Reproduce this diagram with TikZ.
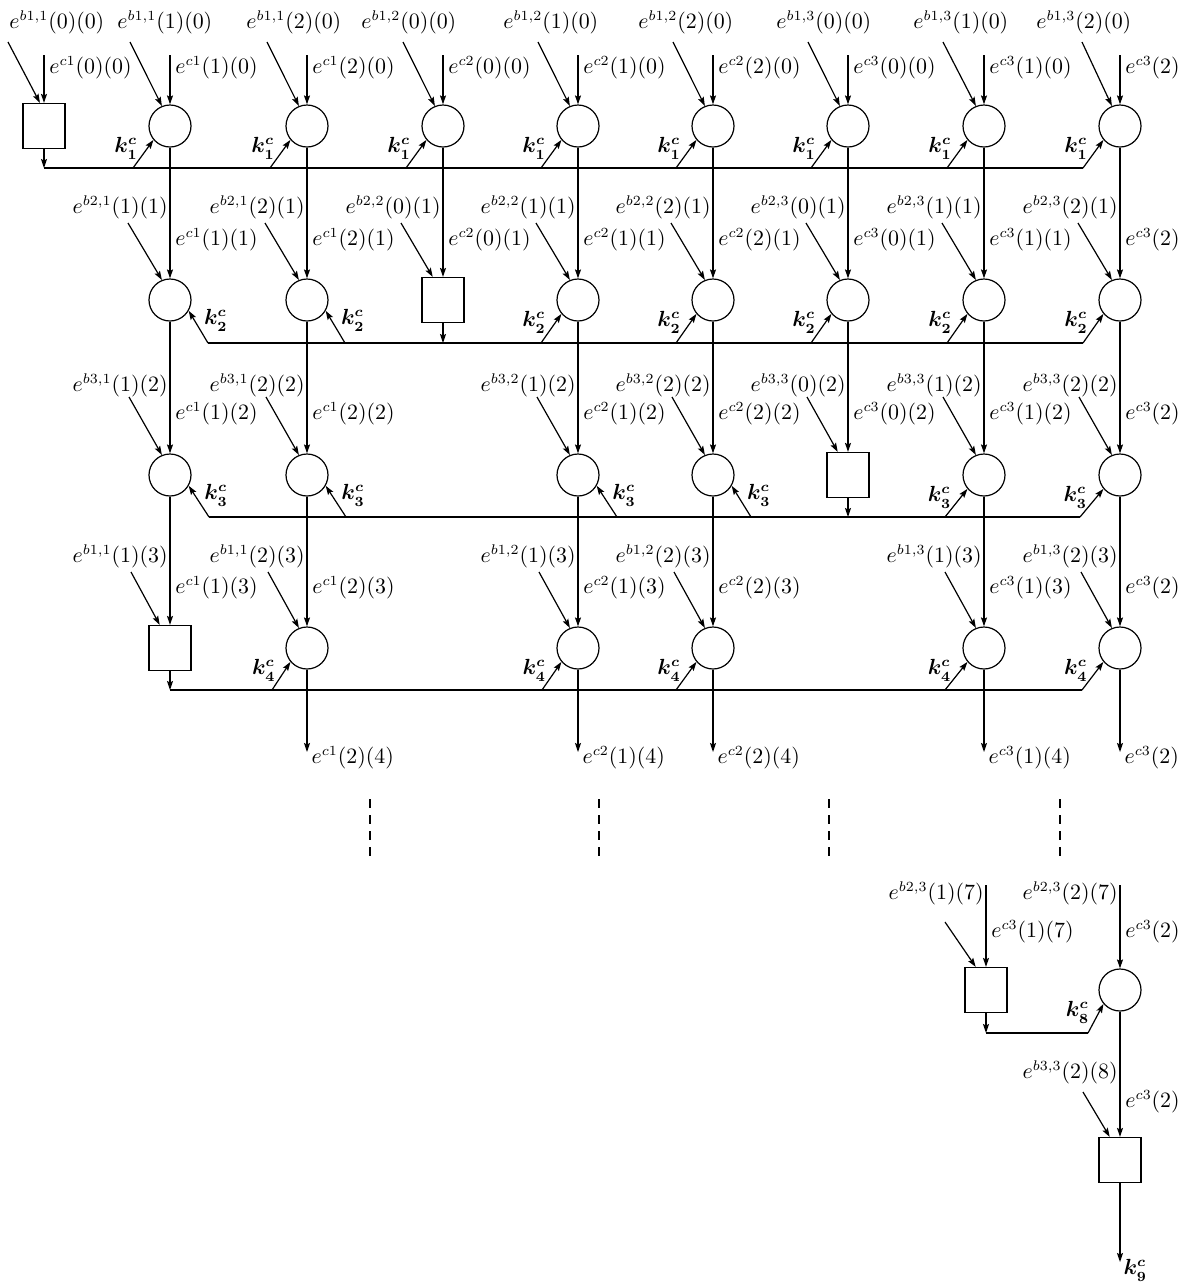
\documentclass[tikz,border=0pt]{standalone}
\usepackage{amsmath}
\usetikzlibrary{arrows.meta,positioning}

\begin{document}
\begin{tikzpicture}[
  x=0.5pt, y=-0.5pt,
  pe/.style={draw, circle, minimum size=21pt, inner sep=0pt, line width=0.6pt},
  cell/.style={draw, minimum width=21pt, minimum height=22.5pt, inner sep=0pt, line width=0.6pt},
  lab/.style={inner sep=0.5pt, font=\fontsize{10.5}{12}\selectfont},
  klab/.style={inner sep=0.5pt, font=\boldmath\fontsize{10.5}{12}\selectfont},
  sig/.style={-{Stealth[length=4.5pt, width=3pt, inset=0.8pt]}, line width=0.6pt},
  bus/.style={line width=0.8pt}
]
  \useasboundingbox (0,0) rectangle (1188,1282);

  % Row 1
  \node[cell] (n10) at (44,126) {};
  \node[pe] (n11) at (170,126) {};
  \node[pe] (n12) at (307,126) {};
  \node[pe] (n13) at (443,126) {};
  \node[pe] (n14) at (578,126) {};
  \node[pe] (n15) at (713,126) {};
  \node[pe] (n16) at (848,126) {};
  \node[pe] (n17) at (984,126) {};
  \node[pe] (n18) at (1120,126) {};

  \node[lab, anchor=west] (eb10) at (8,22) {$e^{b1,1}(0)(0)$};
  \node[lab, anchor=west] (eb11) at (116,22) {$e^{b1,1}(1)(0)$};
  \node[lab, anchor=west] (eb12) at (245,22) {$e^{b1,1}(2)(0)$};
  \node[lab, anchor=west] (eb13) at (360,22) {$e^{b1,2}(0)(0)$};
  \node[lab, anchor=west] (eb14) at (502,22) {$e^{b1,2}(1)(0)$};
  \node[lab, anchor=west] (eb15) at (637,22) {$e^{b1,2}(2)(0)$};
  \node[lab, anchor=west] (eb16) at (775,22) {$e^{b1,3}(0)(0)$};
  \node[lab, anchor=west] (eb17) at (912,22) {$e^{b1,3}(1)(0)$};
  \node[lab, anchor=west] (eb18) at (1035,22) {$e^{b1,3}(2)(0)$};

  \node[lab, anchor=west] (ec10) at (48,68) {$e^{c1}(0)(0)$};
  \node[lab, anchor=west] (ec11) at (174,68) {$e^{c1}(1)(0)$};
  \node[lab, anchor=west] (ec12) at (311,68) {$e^{c1}(2)(0)$};
  \node[lab, anchor=west] (ec13) at (447,68) {$e^{c2}(0)(0)$};
  \node[lab, anchor=west] (ec14) at (582,68) {$e^{c2}(1)(0)$};
  \node[lab, anchor=west] (ec15) at (717,68) {$e^{c2}(2)(0)$};
  \node[lab, anchor=west] (ec16) at (852,68) {$e^{c3}(0)(0)$};
  \node[lab, anchor=west] (ec17) at (988,68) {$e^{c3}(1)(0)$};
  \node[lab, anchor=west] (ec18) at (1124,68) {$e^{c3}(2)$};

  \coordinate (d10) at (8,42);    \coordinate (v10) at (44,55);
  \coordinate (d11) at (130,42);  \coordinate (v11) at (170,55);
  \coordinate (d12) at (267,42);  \coordinate (v12) at (307,55);
  \coordinate (d13) at (403,42);  \coordinate (v13) at (443,55);
  \coordinate (d14) at (538,42);  \coordinate (v14) at (578,55);
  \coordinate (d15) at (673,42);  \coordinate (v15) at (713,55);
  \coordinate (d16) at (808,42);  \coordinate (v16) at (848,55);
  \coordinate (d17) at (943,42);  \coordinate (v17) at (984,55);
  \coordinate (d18) at (1082,42); \coordinate (v18) at (1120,55);

  \draw[sig] (d10) -- (n10.100);  \draw[sig] (v10) -- (n10);
  \draw[sig] (d11) -- (n11.112);  \draw[sig] (v11) -- (n11);
  \draw[sig] (d12) -- (n12.112);  \draw[sig] (v12) -- (n12);
  \draw[sig] (d13) -- (n13.112);  \draw[sig] (v13) -- (n13);
  \draw[sig] (d14) -- (n14.112);  \draw[sig] (v14) -- (n14);
  \draw[sig] (d15) -- (n15.112);  \draw[sig] (v15) -- (n15);
  \draw[sig] (d16) -- (n16.112);  \draw[sig] (v16) -- (n16);
  \draw[sig] (d17) -- (n17.112);  \draw[sig] (v17) -- (n17);
  \draw[sig] (d18) -- (n18.112);  \draw[sig] (v18) -- (n18);

  % Bus 1
  \coordinate (j10) at (44,168);
  \coordinate (k11) at (133,168);
  \coordinate (k12) at (270,168);
  \coordinate (k13) at (406,168);
  \coordinate (k14) at (541,168);
  \coordinate (k15) at (676,168);
  \coordinate (k16) at (811,168);
  \coordinate (k17) at (947,168);
  \coordinate (k18) at (1083,168);
  \draw[sig] (n10) -- (j10);
  \draw[bus] (j10) -- (k18);
  \draw[sig] (k11) -- node[klab, left=4pt, pos=0.7] {$k_1^c$} (n11.220);
  \draw[sig] (k12) -- node[klab, left=4pt, pos=0.7] {$k_1^c$} (n12.220);
  \draw[sig] (k13) -- node[klab, left=4pt, pos=0.7] {$k_1^c$} (n13.220);
  \draw[sig] (k14) -- node[klab, left=4pt, pos=0.7] {$k_1^c$} (n14.220);
  \draw[sig] (k15) -- node[klab, left=4pt, pos=0.7] {$k_1^c$} (n15.220);
  \draw[sig] (k16) -- node[klab, left=4pt, pos=0.7] {$k_1^c$} (n16.220);
  \draw[sig] (k17) -- node[klab, left=4pt, pos=0.7] {$k_1^c$} (n17.220);
  \draw[sig] (k18) -- node[klab, left=4pt, pos=0.7] {$k_1^c$} (n18.220);

  % Row 2
  \node[pe] (n21) at (170,300) {};
  \node[pe] (n22) at (307,300) {};
  \node[cell] (n23) at (443,300) {};
  \node[pe] (n24) at (578,300) {};
  \node[pe] (n25) at (713,300) {};
  \node[pe] (n26) at (848,300) {};
  \node[pe] (n27) at (984,300) {};
  \node[pe] (n28) at (1120,300) {};

  \node[lab, anchor=east] (eb21) at (169,207) {$e^{b2,1}(1)(1)$};
  \node[lab, anchor=east] (eb22) at (306,207) {$e^{b2,1}(2)(1)$};
  \node[lab, anchor=east] (eb23) at (442,207) {$e^{b2,2}(0)(1)$};
  \node[lab, anchor=east] (eb24) at (577,207) {$e^{b2,2}(1)(1)$};
  \node[lab, anchor=east] (eb25) at (712,207) {$e^{b2,2}(2)(1)$};
  \node[lab, anchor=east] (eb26) at (847,207) {$e^{b2,3}(0)(1)$};
  \node[lab, anchor=east] (eb27) at (983,207) {$e^{b2,3}(1)(1)$};
  \node[lab, anchor=east] (eb28) at (1119,207) {$e^{b2,3}(2)(1)$};

  \node[lab, anchor=west] (ec21) at (174,240) {$e^{c1}(1)(1)$};
  \node[lab, anchor=west] (ec22) at (311,240) {$e^{c1}(2)(1)$};
  \node[lab, anchor=west] (ec23) at (447,240) {$e^{c2}(0)(1)$};
  \node[lab, anchor=west] (ec24) at (582,240) {$e^{c2}(1)(1)$};
  \node[lab, anchor=west] (ec25) at (717,240) {$e^{c2}(2)(1)$};
  \node[lab, anchor=west] (ec26) at (852,240) {$e^{c3}(0)(1)$};
  \node[lab, anchor=west] (ec27) at (988,240) {$e^{c3}(1)(1)$};
  \node[lab, anchor=west] (ec28) at (1124,240) {$e^{c3}(2)$};

  \coordinate (d21) at (128,223);
  \coordinate (d22) at (265,223);
  \coordinate (d23) at (401,223);
  \coordinate (d24) at (536,223);
  \coordinate (d25) at (671,223);
  \coordinate (d26) at (806,223);
  \coordinate (d27) at (942,223);
  \coordinate (d28) at (1078,223);

  \draw[sig] (d21) -- (n21.112);  \draw[sig] (n11) -- (n21);
  \draw[sig] (d22) -- (n22.112);  \draw[sig] (n12) -- (n22);
  \draw[sig] (d23) -- (n23.114);  \draw[sig] (n13) -- (n23);
  \draw[sig] (d24) -- (n24.112);  \draw[sig] (n14) -- (n24);
  \draw[sig] (d25) -- (n25.112);  \draw[sig] (n15) -- (n25);
  \draw[sig] (d26) -- (n26.112);  \draw[sig] (n16) -- (n26);
  \draw[sig] (d27) -- (n27.112);  \draw[sig] (n17) -- (n27);
  \draw[sig] (d28) -- (n28.112);  \draw[sig] (n18) -- (n28);

  % Bus 2
  \coordinate (k21) at (208,343);
  \coordinate (k22) at (345,343);
  \coordinate (j23) at (443,343);
  \coordinate (k24) at (541,343);
  \coordinate (k25) at (676,343);
  \coordinate (k26) at (811,343);
  \coordinate (k27) at (947,343);
  \coordinate (k28) at (1083,343);
  \draw[bus] (k21) -- (k28);
  \draw[sig] (n23) -- (j23);
  \draw[sig] (k21) -- node[klab, right=4pt, pos=0.7] {$k_2^c$} (n21.330);
  \draw[sig] (k22) -- node[klab, right=4pt, pos=0.7] {$k_2^c$} (n22.330);
  \draw[sig] (k24) -- node[klab, left=4pt, pos=0.7] {$k_2^c$} (n24.220);
  \draw[sig] (k25) -- node[klab, left=4pt, pos=0.7] {$k_2^c$} (n25.220);
  \draw[sig] (k26) -- node[klab, left=4pt, pos=0.7] {$k_2^c$} (n26.220);
  \draw[sig] (k27) -- node[klab, left=4pt, pos=0.7] {$k_2^c$} (n27.220);
  \draw[sig] (k28) -- node[klab, left=4pt, pos=0.7] {$k_2^c$} (n28.220);

  % Row 3
  \node[pe] (n31) at (170,475) {};
  \node[pe] (n32) at (307,475) {};
  \node[pe] (n34) at (578,475) {};
  \node[pe] (n35) at (713,475) {};
  \node[cell] (n36) at (848,475) {};
  \node[pe] (n37) at (984,475) {};
  \node[pe] (n38) at (1120,475) {};

  \node[lab, anchor=east] (eb31) at (169,385) {$e^{b3,1}(1)(2)$};
  \node[lab, anchor=east] (eb32) at (306,385) {$e^{b3,1}(2)(2)$};
  \node[lab, anchor=east] (eb34) at (577,385) {$e^{b3,2}(1)(2)$};
  \node[lab, anchor=east] (eb35) at (712,385) {$e^{b3,2}(2)(2)$};
  \node[lab, anchor=east] (eb36) at (847,385) {$e^{b3,3}(0)(2)$};
  \node[lab, anchor=east] (eb37) at (983,385) {$e^{b3,3}(1)(2)$};
  \node[lab, anchor=east] (eb38) at (1119,385) {$e^{b3,3}(2)(2)$};

  \node[lab, anchor=west] (ec31) at (174,414) {$e^{c1}(1)(2)$};
  \node[lab, anchor=west] (ec32) at (311,414) {$e^{c1}(2)(2)$};
  \node[lab, anchor=west] (ec34) at (582,414) {$e^{c2}(1)(2)$};
  \node[lab, anchor=west] (ec35) at (717,414) {$e^{c2}(2)(2)$};
  \node[lab, anchor=west] (ec36) at (852,414) {$e^{c3}(0)(2)$};
  \node[lab, anchor=west] (ec37) at (988,414) {$e^{c3}(1)(2)$};
  \node[lab, anchor=west] (ec38) at (1124,414) {$e^{c3}(2)$};

  \coordinate (d31) at (129,397);
  \coordinate (d32) at (266,397);
  \coordinate (d34) at (537,397);
  \coordinate (d35) at (672,397);
  \coordinate (d36) at (807,397);
  \coordinate (d37) at (943,397);
  \coordinate (d38) at (1079,397);

  \draw[sig] (d31) -- (n31.112);  \draw[sig] (n21) -- (n31);
  \draw[sig] (d32) -- (n32.112);  \draw[sig] (n22) -- (n32);
  \draw[sig] (d34) -- (n34.112);  \draw[sig] (n24) -- (n34);
  \draw[sig] (d35) -- (n35.112);  \draw[sig] (n25) -- (n35);
  \draw[sig] (d36) -- (n36.114);  \draw[sig] (n26) -- (n36);
  \draw[sig] (d37) -- (n37.112);  \draw[sig] (n27) -- (n37);
  \draw[sig] (d38) -- (n38.112);  \draw[sig] (n28) -- (n38);

  % Bus 3
  \coordinate (k31) at (209,517);
  \coordinate (k32) at (346,517);
  \coordinate (k34) at (617,517);
  \coordinate (k35) at (751,517);
  \coordinate (j36) at (848,517);
  \coordinate (k37) at (945,517);
  \coordinate (k38) at (1080,517);
  \draw[bus] (k31) -- (k38);
  \draw[sig] (n36) -- (j36);
  \draw[sig] (k31) -- node[klab, right=4pt, pos=0.7] {$k_3^c$} (n31.330);
  \draw[sig] (k32) -- node[klab, right=4pt, pos=0.7] {$k_3^c$} (n32.330);
  \draw[sig] (k34) -- node[klab, right=4pt, pos=0.7] {$k_3^c$} (n34.330);
  \draw[sig] (k35) -- node[klab, right=4pt, pos=0.7] {$k_3^c$} (n35.330);
  \draw[sig] (k37) -- node[klab, left=4pt, pos=0.7] {$k_3^c$} (n37.220);
  \draw[sig] (k38) -- node[klab, left=4pt, pos=0.7] {$k_3^c$} (n38.220);

  % Row 4
  \node[cell] (n41) at (170,648) {};
  \node[pe] (n42) at (307,648) {};
  \node[pe] (n44) at (578,648) {};
  \node[pe] (n45) at (713,648) {};
  \node[pe] (n47) at (984,648) {};
  \node[pe] (n48) at (1120,648) {};

  \node[lab, anchor=east] (eb41) at (169,556) {$e^{b1,1}(1)(3)$};
  \node[lab, anchor=east] (eb42) at (306,556) {$e^{b1,1}(2)(3)$};
  \node[lab, anchor=east] (eb44) at (577,556) {$e^{b1,2}(1)(3)$};
  \node[lab, anchor=east] (eb45) at (712,556) {$e^{b1,2}(2)(3)$};
  \node[lab, anchor=east] (eb47) at (983,556) {$e^{b1,3}(1)(3)$};
  \node[lab, anchor=east] (eb48) at (1119,556) {$e^{b1,3}(2)(3)$};

  \node[lab, anchor=west] (ec41) at (174,588) {$e^{c1}(1)(3)$};
  \node[lab, anchor=west] (ec42) at (311,588) {$e^{c1}(2)(3)$};
  \node[lab, anchor=west] (ec44) at (582,588) {$e^{c2}(1)(3)$};
  \node[lab, anchor=west] (ec45) at (717,588) {$e^{c2}(2)(3)$};
  \node[lab, anchor=west] (ec47) at (988,588) {$e^{c3}(1)(3)$};
  \node[lab, anchor=west] (ec48) at (1124,588) {$e^{c3}(2)$};

  \coordinate (d41) at (131,572);
  \coordinate (d42) at (268,572);
  \coordinate (d44) at (539,572);
  \coordinate (d45) at (674,572);
  \coordinate (d47) at (945,572);
  \coordinate (d48) at (1081,572);

  \draw[sig] (d41) -- (n41.114);  \draw[sig] (n31) -- (n41);
  \draw[sig] (d42) -- (n42.112);  \draw[sig] (n32) -- (n42);
  \draw[sig] (d44) -- (n44.112);  \draw[sig] (n34) -- (n44);
  \draw[sig] (d45) -- (n45.112);  \draw[sig] (n35) -- (n45);
  \draw[sig] (d47) -- (n47.112);  \draw[sig] (n37) -- (n47);
  \draw[sig] (d48) -- (n48.112);  \draw[sig] (n38) -- (n48);

  % Bus 4
  \coordinate (j41) at (170,690);
  \coordinate (k42) at (272,690);
  \coordinate (k44) at (542,690);
  \coordinate (k45) at (676,690);
  \coordinate (k47) at (945,690);
  \coordinate (k48) at (1082,690);
  \draw[sig] (n41) -- (j41);
  \draw[bus] (j41) -- (k48);
  \draw[sig] (k42) -- node[klab, left=4pt, pos=0.7] {$k_4^c$} (n42.220);
  \draw[sig] (k44) -- node[klab, left=4pt, pos=0.7] {$k_4^c$} (n44.220);
  \draw[sig] (k45) -- node[klab, left=4pt, pos=0.7] {$k_4^c$} (n45.220);
  \draw[sig] (k47) -- node[klab, left=4pt, pos=0.7] {$k_4^c$} (n47.220);
  \draw[sig] (k48) -- node[klab, left=4pt, pos=0.7] {$k_4^c$} (n48.220);

  % Outputs
  \coordinate (o42) at (307,752);
  \coordinate (o44) at (578,752);
  \coordinate (o45) at (713,752);
  \coordinate (o47) at (984,752);
  \coordinate (o48) at (1120,752);
  \draw[sig] (n42) -- (o42) node[lab, anchor=west, xshift=1.5pt, yshift=-3pt] {$e^{c1}(2)(4)$};
  \draw[sig] (n44) -- (o44) node[lab, anchor=west, xshift=1.5pt, yshift=-3pt] {$e^{c2}(1)(4)$};
  \draw[sig] (n45) -- (o45) node[lab, anchor=west, xshift=1.5pt, yshift=-3pt] {$e^{c2}(2)(4)$};
  \draw[sig] (n47) -- (o47) node[lab, anchor=west, xshift=1.5pt, yshift=-3pt] {$e^{c3}(1)(4)$};
  \draw[sig] (n48) -- (o48) node[lab, anchor=west, xshift=1.5pt, yshift=-3pt] {$e^{c3}(2)$};

  % Gap
  \draw[line width=0.6pt, dash pattern=on 4.5pt off 3.5pt] (370,799) -- (370,862);
  \draw[line width=0.6pt, dash pattern=on 4.5pt off 3.5pt] (599,799) -- (599,862);
  \draw[line width=0.6pt, dash pattern=on 4.5pt off 3.5pt] (829,799) -- (829,862);
  \draw[line width=0.6pt, dash pattern=on 4.5pt off 3.5pt] (1060,799) -- (1060,862);

  % Last stages
  \node[cell] (n87) at (986,990) {};
  \node[pe] (n88) at (1120,990) {};
  \node[cell] (n98) at (1120,1160) {};

  \node[lab, anchor=east] (eb87) at (985,893) {$e^{b2,3}(1)(7)$};
  \node[lab, anchor=west] (ec87) at (990,932) {$e^{c3}(1)(7)$};
  \node[lab, anchor=east] (eb88) at (1119,893) {$e^{b2,3}(2)(7)$};
  \node[lab, anchor=west] (ec88) at (1124,932) {$e^{c3}(2)$};
  \node[lab, anchor=east] (eb98) at (1119,1072) {$e^{b3,3}(2)(8)$};
  \node[lab, anchor=west] (ec98) at (1124,1102) {$e^{c3}(2)$};

  \coordinate (v87) at (986,885);
  \coordinate (v88) at (1120,885);
  \coordinate (d87) at (945,922);
  \coordinate (d98) at (1083,1092);
  \draw[sig] (d87) -- (n87.114);  \draw[sig] (v87) -- (n87);
  \draw[sig] (v88) -- (n88);
  \draw[sig] (d98) -- (n98.114);  \draw[sig] (n88) -- (n98);

  \coordinate (j87) at (986,1033);
  \coordinate (k88) at (1088,1033);
  \draw[sig] (n87) -- (j87);
  \draw[bus] (j87) -- (k88);
  \draw[sig] (k88) -- node[klab, left=4pt, pos=0.7] {$k_8^c$} (n88.220);

  \coordinate (o98) at (1120,1262);
  \draw[sig] (n98) -- (o98) node[klab, anchor=west, xshift=1pt, yshift=-4pt] {$k_9^c$};
\end{tikzpicture}
\end{document}
